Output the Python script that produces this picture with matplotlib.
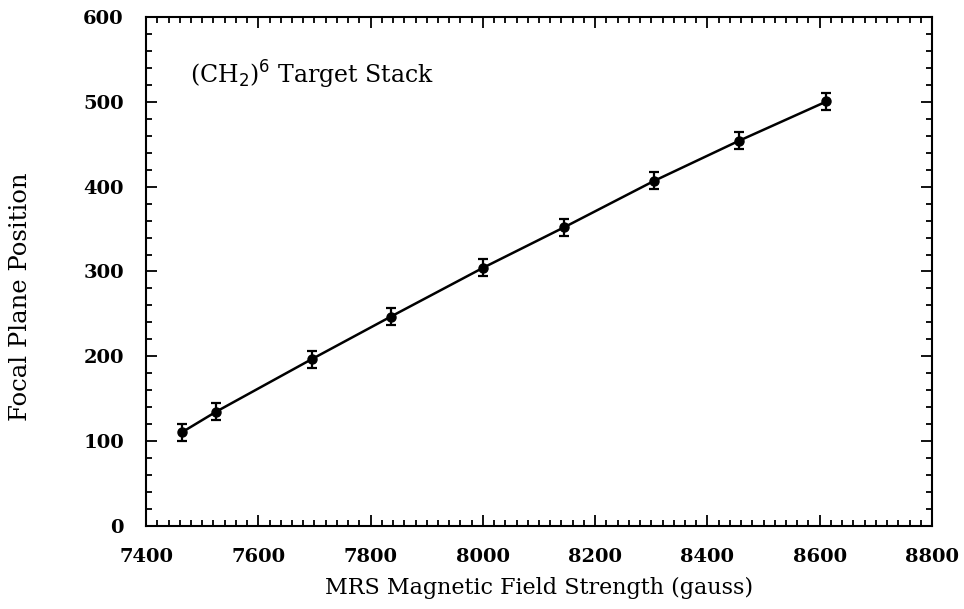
import matplotlib.pyplot as plt
from matplotlib.ticker import MultipleLocator

# MRS field scan, (CH2)6 target stack
field = [7464, 7525, 7695, 7836, 8001, 8145, 8305, 8456, 8612]
position = [110.5, 134.8, 196.6, 246.8, 304.6, 352.2, 406.8, 454.0, 500.4]
error = [10, 10, 10, 10, 10, 10, 10, 10, 10]

fig = plt.figure(figsize=(9.64, 6.09), dpi=100)
ax = fig.add_axes([0.1515, 0.1363, 0.8153, 0.8358])

ax.plot(field, position, color="black", linewidth=1.8)
ax.errorbar(field, position, yerr=error, fmt="o", color="black",
            markersize=6.5, capsize=3.5, elinewidth=1.6, capthick=1.6)

ax.set_xlim(7400, 8800)
ax.set_ylim(0, 600)
ax.xaxis.set_major_locator(MultipleLocator(200))
ax.xaxis.set_minor_locator(MultipleLocator(20))
ax.yaxis.set_major_locator(MultipleLocator(100))
ax.yaxis.set_minor_locator(MultipleLocator(20))
ax.tick_params(which="both", direction="in", top=True, right=True, width=1.3)
ax.tick_params(which="major", length=8)
ax.tick_params(which="minor", length=4)
ax.tick_params(axis="x", which="major", pad=16)
ax.tick_params(axis="y", which="major", pad=16)
for spine in ax.spines.values():
    spine.set_linewidth(1.5)

for lab in ax.get_xticklabels() + ax.get_yticklabels():
    lab.set_family("DejaVu Serif")
    lab.set_fontweight("bold")
    lab.set_fontsize(14)

ax.set_xlabel("MRS Magnetic Field Strength (gauss)", family="DejaVu Serif",
              fontsize=16, labelpad=8)
ax.set_ylabel("Focal Plane Position", family="DejaVu Serif", fontsize=17.5,
              va="center")
ax.yaxis.set_label_coords(-0.160, 0.45)

ax.text(7478, 532, r"(CH$_2$)$^6$ Target Stack", family="DejaVu Serif",
        fontsize=17, va="center", ha="left")

fig.savefig("out.png", dpi=100)
